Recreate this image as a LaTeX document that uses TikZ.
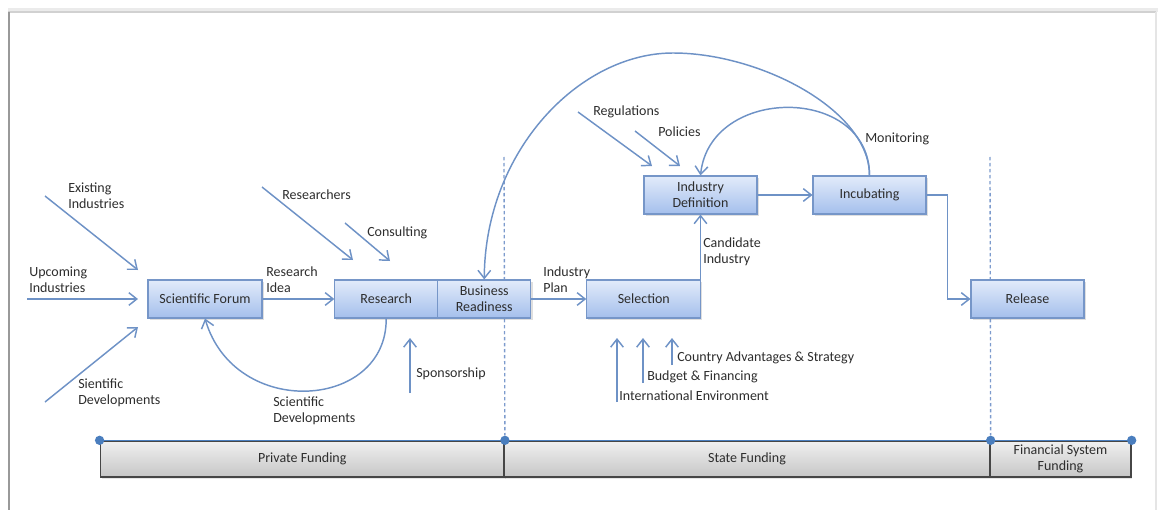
\documentclass[tikz,border=0pt]{standalone}
\usepackage{fontspec}
\setmainfont{Carlito}
\usetikzlibrary{arrows.meta,shadows}

\definecolor{flowc}{RGB}{110,146,198}
\definecolor{boxline}{RGB}{118,150,200}
\definecolor{boxtop}{RGB}{226,235,250}
\definecolor{boxbot}{RGB}{164,191,236}
\definecolor{ink}{RGB}{45,45,45}
\definecolor{dashc}{RGB}{125,155,205}
\definecolor{bartop}{RGB}{240,240,240}
\definecolor{barbot}{RGB}{198,198,198}
\definecolor{barline}{RGB}{70,70,70}
\definecolor{dotc}{RGB}{74,126,190}

\begin{document}
\begin{tikzpicture}[x=0.75pt,y=-0.75pt,
  proc/.style={draw=boxline, line width=0.8pt, top color=boxtop, bottom color=boxbot,
    font=\fontsize{10.5}{12}\selectfont, text=ink, inner sep=0pt, align=center,
    minimum height=28.5pt,
    drop shadow={opacity=0.25, shadow xshift=1.2pt, shadow yshift=-1.2pt}},
  lbl/.style={font=\fontsize{10.5}{12}\selectfont, text=ink, inner sep=0pt, align=left, anchor=west},
  arr/.style={draw=flowc, line width=1.1pt, -{Straight Barb[length=6pt,width=9.5pt]}},
  divider/.style={draw=dashc, line width=1pt, dash pattern=on 2.5pt off 2pt},
  fund/.style={draw=barline, line width=1pt, top color=bartop, bottom color=barbot,
    font=\fontsize{10.5}{12}\selectfont, text=ink, inner sep=0pt, align=center,
    minimum height=27pt,
    drop shadow={opacity=0.2, shadow xshift=1pt, shadow yshift=-1.2pt}},
  dot/.style={circle, fill=dotc, minimum size=7pt, inner sep=0pt}]
\useasboundingbox (0,0) rectangle (1158,510);

% page edges
\draw[black!8, line width=3pt] (8,10) -- (1158,10);
\draw[black!18, line width=1pt] (8,12) -- (1156,12);
\draw[black!40, line width=1.3pt] (9,12) -- (9,510);
\draw[black!10, line width=1pt] (1156,12) -- (1156,510);

% funding bar
\node[fund, minimum width=303pt] (priv) at (302.25,459) {Private Funding};
\node[fund, minimum width=364.5pt] (state) at (747,459) {State Funding};
\node[fund, minimum width=105.75pt] (fin) at (1060.5,459) {Financial System\\Funding};
\draw[dotc, line width=1.2pt] (priv.north west) -- (fin.north east);
\node[dot] (d1) at (priv.north west) {};
\node[dot] (d2) at (priv.north east) {};
\node[dot] (d3) at (state.north east) {};
\node[dot] (d4) at (fin.north east) {};

% phase dividers
\coordinate (v1) at (504,157);
\coordinate (v2) at (990,157);
\draw[divider] (v1) -- (d2);
\draw[divider] (v2) -- (d3);

% process boxes
\node[proc, minimum width=85.5pt] (sf) at (205,299) {Scientific Forum};
\node[proc, minimum width=77pt] (res) at (386.2,299) {Research};
\node[proc, minimum width=70pt] (br) at (484.25,299) {Business\\Readiness};
\node[proc, minimum width=85.5pt] (sel) at (643.8,299) {Selection};
\node[proc, minimum width=84.75pt] (id) at (700.5,195) {Industry\\Definition};
\node[proc, minimum width=84.75pt] (inc) at (869.5,195) {Incubating};
\node[proc, minimum width=84.75pt] (rel) at (1027.5,299) {Release};

% inputs to the scientific forum
\coordinate (ex0) at (45,196);  \coordinate (ex1) at (138,270);
\coordinate (up0) at (27,299);  \coordinate (up1) at (138,299);
\coordinate (sd0) at (45,402);  \coordinate (sd1) at (138,327);
\draw[arr] (ex0) -- (ex1);
\draw[arr] (up0) -- (up1);
\draw[arr] (sd0) -- (sd1);
\node[lbl] (lex) at (68,196) {Existing\\Industries};
\node[lbl] (lup) at (29,280) {Upcoming\\Industries};
\node[lbl] (lsd) at (78,393) {Sientific\\Developments};

% research stage
\draw[arr] (sf) -- (res);
\node[lbl] (lidea) at (266,280) {Research\\Idea};
\coordinate (rs0) at (262,187);  \coordinate (rs1) at (353,260);
\coordinate (cs0) at (345,223);  \coordinate (cs1) at (390,261);
\draw[arr] (rs0) -- (rs1);
\draw[arr] (cs0) -- (cs1);
\node[lbl] (lrs) at (282,195) {Researchers};
\node[lbl] (lcs) at (367,233) {Consulting};
\coordinate (sp0) at (410,393);  \coordinate (sp1) at (410,338);
\draw[arr] (sp0) -- (sp1);
\node[lbl] (lsp) at (416,374) {Sponsorship};
\draw[arr] (res.south) .. controls (387,410) and (235,420) .. (sf.south);
\node[lbl] (lsd2) at (273,411) {Scientific\\Developments};

% state stage
\draw[arr] (br) -- (sel);
\node[lbl] (lplan) at (543,280) {Industry\\Plan};
\draw[arr] (id.south |- sel.north) -- (id.south);
\node[lbl] (lcand) at (703,252) {Candidate\\Industry};
\coordinate (ie0) at (617,402);  \coordinate (ie1) at (617,338);
\coordinate (bf0) at (643,383);  \coordinate (bf1) at (643,338);
\coordinate (ca0) at (672,365);  \coordinate (ca1) at (672,338);
\draw[arr] (ie0) -- (ie1);
\draw[arr] (bf0) -- (bf1);
\draw[arr] (ca0) -- (ca1);
\node[lbl] (lca) at (677,358) {Country Advantages \& Strategy};
\node[lbl] (lbf) at (647,377) {Budget \& Financing};
\node[lbl] (lie) at (619,396) {International Environment};

\coordinate (rg0) at (578,112);  \coordinate (rg1) at (652,166);
\coordinate (pl0) at (635,131);  \coordinate (pl1) at (680,166);
\draw[arr] (rg0) -- (rg1);
\draw[arr] (pl0) -- (pl1);
\node[lbl] (lrg) at (593,112) {Regulations};
\node[lbl] (lpl) at (658,132) {Policies};

\draw[arr] (id) -- (inc);
\draw[arr] (inc.north) .. controls (869.5,85) and (710,85) .. (id.north);
\node[lbl] (lmon) at (865,139) {Monitoring};
\draw[arr] (inc.north) .. controls (869.5,110) and (760,53) .. (673,53)
  .. controls (580,53) and (485,150) .. (br.north);
\draw[arr] (inc.east) -- ++(21,0) |- (rel.west);
\end{tikzpicture}
\end{document}
